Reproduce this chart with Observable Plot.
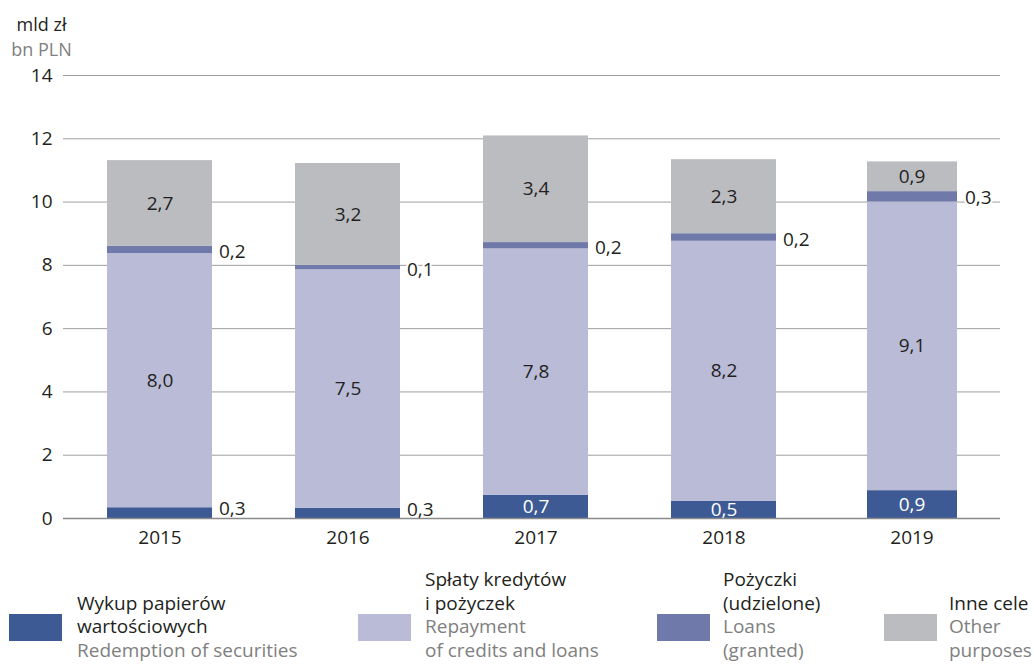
<!DOCTYPE html>
<html>
<head>
<meta charset="utf-8">
<script src="https://cdn.jsdelivr.net/npm/d3@7"></script>
<script src="https://cdn.jsdelivr.net/npm/@observablehq/plot@0.6"></script>
<style>
  html, body { margin: 0; padding: 0; background: #fff; }
  #wrap { position: relative; width: 1034px; height: 671px; overflow: hidden; font-family: "Open Sans", sans-serif; color: #231f20; }
  #chart { position: absolute; left: 0; top: 0; }
  .unit { position: absolute; left: 0; width: 83px; text-align: center; font-size: 18px; line-height: 20px; }
  .sw { position: absolute; top: 614px; width: 53px; height: 27px; }
  .lt { position: absolute; bottom: 9px; font-size: 19px; line-height: 23.5px; white-space: nowrap; }
  .lt .g { color: #808080; }
</style>
</head>
<body>
<div id="wrap">
  <div class="unit" style="top:14px;">mld zł</div>
  <div class="unit" style="top:39px;color:#808080;">bn PLN</div>
  <div id="chart"></div>
  <div id="legend"></div>
</div>
<script>
const years = ["2015", "2016", "2017", "2018", "2019"];
const securities = [0.34, 0.32, 0.73, 0.54, 0.88];
const repayment  = [8.03, 7.54, 7.79, 8.22, 9.12];
const loans      = [0.23, 0.14, 0.20, 0.24, 0.33];
const other      = [2.71, 3.22, 3.37, 2.34, 0.94];
const yTicks = [0, 2, 4, 6, 8, 10, 12, 14];

const seriesKeys = ["securities", "repayment", "loans", "other"];
const seriesColors = ["#3e5a94", "#b9bbd7", "#6f7aaa", "#bbbcc0"];
const seriesValues = [securities, repayment, loans, other];
const legendPl = [["Wykup papierów", "wartościowych"], ["Spłaty kredytów", "i pożyczek"], ["Pożyczki", "(udzielone)"], ["Inne cele"]];
const legendEn = [["Redemption of securities"], ["Repayment", "of credits and loans"], ["Loans", "(granted)"], ["Other", "purposes"]];

const rows = [];
years.forEach((year, i) => {
  let acc = 0;
  seriesKeys.forEach((series, j) => {
    const value = seriesValues[j][i];
    rows.push({year, series, value, y0: acc, y1: acc + value, mid: acc + value / 2});
    acc += value;
  });
});

const fmt = d => d3.format(".1f")(d.value).replace(".", ",");
const dark = "#231f20";
const FS = 19;
const last = years[years.length - 1];
const notLast = d => d.year !== last;
const isLast = d => d.year === last;

const plot = Plot.plot({
  width: 1034,
  height: 560,
  marginTop: 75,
  marginBottom: 42,
  marginLeft: 63,
  marginRight: 34,
  style: {fontFamily: "Open Sans", fontSize: FS + "px", color: dark, background: "transparent"},
  x: {domain: years, range: [22, 1050], paddingInner: 0.44, paddingOuter: 0.44, tickSize: 0, tickPadding: 12, label: null},
  y: {domain: [0, 14], ticks: yTicks, tickSize: 0, tickPadding: 11, tickFormat: d => String(d), label: null},
  color: {domain: seriesKeys, range: seriesColors},
  marks: [
    Plot.ruleY(yTicks.filter(t => t > 0), {stroke: "#9f9f9f", strokeWidth: 1}),
    Plot.barY(rows.filter(notLast), {x: "year", y1: "y0", y2: "y1", fill: "series"}),
    Plot.barY(rows.filter(isLast), {x: "year", y1: "y0", y2: "y1", fill: "series", insetLeft: 8, insetRight: 7}),
    Plot.ruleY([0], {stroke: "#8a8a8a", strokeWidth: 1.5}),
    Plot.text(rows.filter(d => d.series === "repayment" || d.series === "other"),
      {x: "year", y: "mid", text: fmt, fill: dark, fontSize: FS}),
    Plot.text(rows.filter(d => d.series === "securities" && d.value >= 0.5),
      {x: "year", y: "mid", text: fmt, fill: "#ffffff", fontSize: FS}),
    Plot.text(rows.filter(d => d.series === "securities" && d.value < 0.5),
      {x: "year", y: "mid", text: fmt, fill: dark, fontSize: FS, textAnchor: "start", dx: 59, dy: -4}),
    Plot.text(rows.filter(d => d.series === "loans" && notLast(d)),
      {x: "year", y: "mid", text: fmt, fill: dark, fontSize: FS, textAnchor: "start", dx: 59, dy: 2, stroke: "#ffffff", strokeWidth: 4}),
    Plot.text(rows.filter(d => d.series === "loans" && isLast(d)),
      {x: "year", y: "mid", text: fmt, fill: dark, fontSize: FS, textAnchor: "start", dx: 53, dy: 1, stroke: "#ffffff", strokeWidth: 4})
  ]
});
document.getElementById("chart").appendChild(plot);

const swX = [9, 358, 657, 884];
const txX = [77, 425, 723, 949];
const legend = document.getElementById("legend");
seriesKeys.forEach((k, i) => {
  const sw = document.createElement("div");
  sw.className = "sw";
  sw.style.left = swX[i] + "px";
  sw.style.background = seriesColors[i];
  legend.appendChild(sw);
  const tx = document.createElement("div");
  tx.className = "lt";
  tx.style.left = txX[i] + "px";
  legendPl[i].forEach(s => { const d = document.createElement("div"); d.textContent = s; tx.appendChild(d); });
  legendEn[i].forEach(s => { const d = document.createElement("div"); d.className = "g"; d.textContent = s; tx.appendChild(d); });
  legend.appendChild(tx);
});
</script>
</body>
</html>
